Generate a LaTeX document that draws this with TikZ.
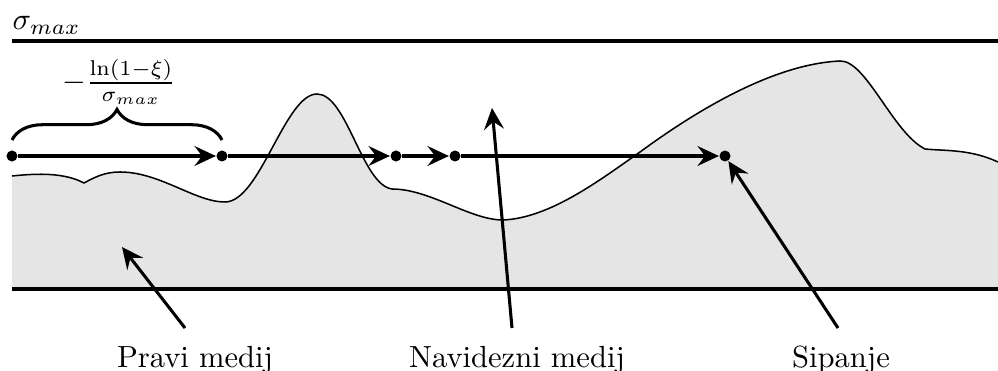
\documentclass[tikz,border=0pt]{standalone}
\usetikzlibrary{arrows.meta,decorations.pathreplacing}
\begin{document}
\begin{tikzpicture}[x=0.327pt,y=-0.327pt,
  thickline/.style={line width=1pt},
  ray/.style={line width=1pt,-{Stealth[length=7pt,width=6.5pt,inset=2.5pt]}},
  dot/.style={circle,fill=black,inner sep=0pt,minimum size=3.6pt},
  lbl/.style={anchor=base,inner sep=0pt},
  medium/.style={line width=0.5pt}]
\useasboundingbox (0,0) rectangle (998,371);
\def\surface{(12,176) .. controls (40,173) and (65,173) .. (84,183)
  .. controls (95,177) and (105,172) .. (120,172)
  .. controls (160,172) and (195,202) .. (225,202)
  .. controls (260,202) and (285,94) .. (317,94)
  .. controls (347,94) and (362,185) .. (392,189)
  .. controls (430,189) and (470,220) .. (503,220)
  .. controls (550,218) and (600,180) .. (640,152)
  .. controls (700,108) and (775,64) .. (840,61)
  .. controls (866,60) and (893,133) .. (925,149)
  .. controls (945,151) and (970,149) .. (998,162)}
% gray medium
\fill[gray!20] (12,289) -- \surface -- (998,289) -- cycle;
\draw[medium] \surface;
% bounds
\coordinate (tl) at (12,41); \coordinate (tr) at (998,41);
\coordinate (bl) at (12,289); \coordinate (br) at (998,289);
\draw[thickline] (tl) -- (tr);
\draw[thickline] (bl) -- (br);
\node[anchor=base west,inner sep=0pt] (smax) at (12,30) {$\sigma_{max}$};
% ray
\node[dot] (p0) at (12,156) {};
\node[dot] (p1) at (222,156) {};
\node[dot] (p2) at (396,156) {};
\node[dot] (p3) at (455,156) {};
\node[dot] (p4) at (725,156) {};
\draw[ray] (p0) -- (p1);
\draw[ray] (p1) -- (p2);
\draw[ray] (p2) -- (p3);
\draw[ray] (p3) -- (p4);
% brace
\coordinate (b0) at (12,140); \coordinate (b1) at (222,140);
\draw[line width=1pt,decorate,decoration={brace,amplitude=10pt}] (b0) -- (b1);
\node[anchor=south,inner sep=1pt] (frac) at (119,108) {$-\frac{\ln(1-\xi)}{\sigma_{max}}$};
% labels
\node[lbl] (lp) at (195,367) {Pravi medij};
\node[lbl] (ln) at (517,367) {Navidezni medij};
\node[lbl] (ls) at (841,367) {Sipanje};
\coordinate (pt) at (185,328); \coordinate (ph) at (122,247);
\coordinate (nt) at (512,328); \coordinate (nh) at (492,108);
\coordinate (st) at (838,328);
\draw[ray] (pt) -- (ph);
\draw[ray] (nt) -- (nh);
\draw[ray] (st) -- (p4);
\end{tikzpicture}
\end{document}
